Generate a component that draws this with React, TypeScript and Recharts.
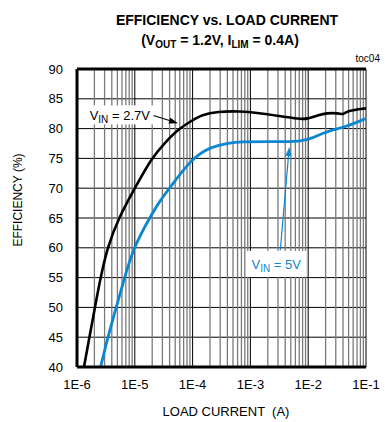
import React from 'react';
import {
  LineChart,
  Line,
  XAxis,
  YAxis,
  CartesianGrid,
  ReferenceLine,
  ReferenceDot
} from 'recharts';

const FONT = "'Liberation Sans', Arial, sans-serif";
const BLUE = '#0b86d1';

// axis ticks
const decadeTicks = [1e-6, 1e-5, 1e-4, 1e-3, 1e-2, 1e-1];
const decadeLabels = ['1E-6', '1E-5', '1E-4', '1E-3', '1E-2', '1E-1'];
const minorSteps = [2, 3, 4, 5, 6, 7, 8, 9];
const effTicks = [40, 45, 50, 55, 60, 65, 70, 75, 80, 85, 90];

// VIN = 2.7V
const vin27Current = [
  1.32e-6, 1.64e-6, 2.04e-6, 2.56e-6, 3.33e-6, 5.24e-6, 1e-5, 1.94e-5, 3.29e-5, 5.8e-5,
  1e-4, 1.43e-4, 2.7e-4, 6.46e-4, 1.43e-3, 3.16e-3, 7e-3, 9.6e-3, 1.55e-2, 2.04e-2,
  3.42e-2, 4e-2, 4.7e-2, 1e-1
];
const vin27Eff = [
  40, 45, 50, 55, 60, 65, 70, 75, 77.6, 80,
  81.4, 82.3, 82.85, 82.95, 82.6, 82.1, 81.6, 81.6, 82.3, 82.6,
  82.6, 82.3, 83.0, 83.4
];

// VIN = 5V
const vin5Current = [
  2.56e-6, 3.42e-6, 4.77e-6, 6.64e-6, 9.5e-6, 1.79e-5, 2.77e-5, 4e-5, 9.6e-5, 2.1e-4,
  4.35e-4, 6.46e-4, 2.13e-3, 7.9e-3, 1.17e-2, 2.04e-2, 4.5e-2, 1e-1
];
const vin5Eff = [
  40, 45, 50, 55, 60, 65, 68, 70, 75, 77,
  77.6, 77.8, 77.8, 77.8, 78.4, 79.5, 80.3, 81.7
];

const vin27 = vin27Current.map((x, i) => ({ x, eff: vin27Eff[i] }));
const vin5 = vin5Current.map((x, i) => ({ x, eff: vin5Eff[i] }));

const minorGrid = decadeTicks.slice(0, 5).flatMap(d => minorSteps.map(m => m * d));

const Arrow = (color: string, width: number) => (p: any) => {
  const { x1, y1, x2, y2 } = p;
  const ang = Math.atan2(y2 - y1, x2 - x1);
  const len = 9;
  const half = 3;
  const bx = x2 - len * Math.cos(ang);
  const by = y2 - len * Math.sin(ang);
  const nx = -Math.sin(ang) * half;
  const ny = Math.cos(ang) * half;
  return (
    <g>
      <line x1={x1} y1={y1} x2={bx} y2={by} stroke={color} strokeWidth={width} />
      <polygon points={`${x2},${y2} ${bx + nx},${by + ny} ${bx - nx},${by - ny}`} fill={color} />
    </g>
  );
};

const Tag = (label: string, color: string, w: number, h: number) => (p: any) => {
  const { cx, cy } = p;
  return (
    <g>
      <rect x={cx - w / 2} y={cy - h / 2} width={w} height={h} fill="#fff" />
      <text x={cx} y={cy + 5} textAnchor="middle" fontFamily={FONT} fontSize={13} fill={color}>
        V<tspan dy={3} fontSize={10}>IN</tspan>
        <tspan dy={-3}>{label}</tspan>
      </text>
    </g>
  );
};

export default function App() {
  return (
    <div style={{ position: 'absolute', left: 0, top: 0, width: 385, height: 422, background: '#fff' }}>
      <LineChart
        width={385}
        height={422}
        margin={{ top: 69, right: 19, bottom: 25, left: 17 }}
      >
        <CartesianGrid vertical={false} stroke="#000" strokeWidth={1} />
        {minorGrid.map(v => (
          <ReferenceLine key={v} x={v} stroke="#7a7a7a" strokeWidth={1.3} />
        ))}
        {decadeTicks.slice(1).map(v => (
          <ReferenceLine key={'d' + v} x={v} stroke="#000" strokeWidth={1} />
        ))}
        <XAxis
          dataKey="x"
          type="number"
          scale="log"
          domain={[1e-6, 1e-1]}
          ticks={decadeTicks}
          tickFormatter={(v: number) => decadeLabels[decadeTicks.indexOf(v)]}
          allowDataOverflow
          tickLine={false}
          tickSize={0}
          tickMargin={13}
          axisLine={{ stroke: '#000', strokeWidth: 3 }}
          tick={{ fill: '#000', fontSize: 13, fontFamily: FONT }}
          height={30}
        />
        <YAxis
          dataKey="eff"
          type="number"
          domain={[40, 90]}
          ticks={effTicks}
          interval={0}
          allowDataOverflow
          tickLine={false}
          tickSize={0}
          tickMargin={14}
          axisLine={{ stroke: '#000', strokeWidth: 3 }}
          tick={{ fill: '#000', fontSize: 13, fontFamily: FONT }}
          width={60}
        />
        <ReferenceLine y={90} stroke="#000" strokeWidth={3} />
        <Line
          data={vin27}
          dataKey="eff"
          type="basis"
          stroke="#000"
          strokeWidth={2.6}
          dot={false}
          isAnimationActive={false}
        />
        <Line
          data={vin5}
          dataKey="eff"
          type="basis"
          stroke={BLUE}
          strokeWidth={2.8}
          dot={false}
          isAnimationActive={false}
        />
        <ReferenceDot x={5.5e-6} y={82.3} r={0} shape={Tag(' = 2.7V', '#000', 67, 19)} />
        <ReferenceLine
          segment={[{ x: 2.1e-5, y: 82.2 }, { x: 5.6e-5, y: 80.9 }]}
          shape={Arrow('#000', 1.2)}
        />
        <ReferenceDot x={2.8e-3} y={57.3} r={0} shape={Tag(' = 5V', BLUE, 60, 26)} />
        <ReferenceLine
          segment={[{ x: 3.29e-3, y: 59.6 }, { x: 4.7e-3, y: 76.9 }]}
          shape={Arrow(BLUE, 1.2)}
        />
      </LineChart>
      <svg
        width={385}
        height={422}
        style={{ position: 'absolute', left: 0, top: 0, pointerEvents: 'none' }}
      >
        <text x={227} y={25} textAnchor="middle" fontFamily={FONT} fontSize={14} fontWeight="bold">
          EFFICIENCY vs. LOAD CURRENT
        </text>
        <text x={220} y={45} textAnchor="middle" fontFamily={FONT} fontSize={14} fontWeight="bold">
          (V<tspan dy={3} fontSize={10}>OUT</tspan>
          <tspan dy={-3}> = 1.2V, I</tspan>
          <tspan dy={3} fontSize={10}>LIM</tspan>
          <tspan dy={-3}> = 0.4A)</tspan>
        </text>
        <text x={380} y={62} textAnchor="end" fontFamily={FONT} fontSize={10}>
          toc04
        </text>
        <text
          x={22}
          y={200}
          textAnchor="middle"
          fontFamily={FONT}
          fontSize={12}
          transform="rotate(-90 22 200)"
        >
          EFFICIENCY (%)
        </text>
        <text x={226} y={416} textAnchor="middle" fontFamily={FONT} fontSize={13} xmlSpace="preserve">
          LOAD CURRENT  (A)
        </text>
      </svg>
    </div>
  );
}
